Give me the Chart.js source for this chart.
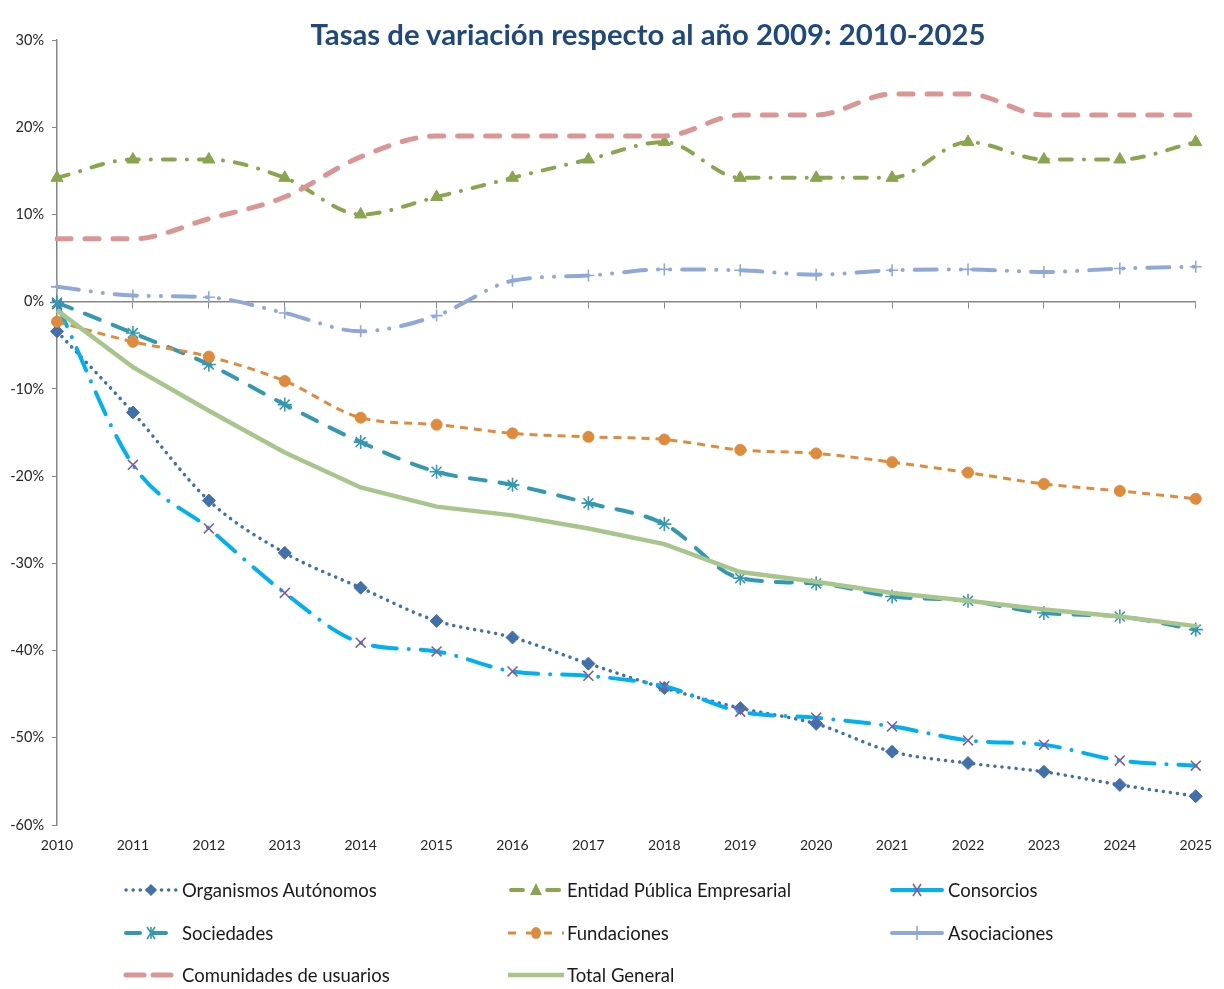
<!DOCTYPE html>
<html>
<head>
<meta charset="utf-8">
<script src="https://cdn.jsdelivr.net/npm/chart.js@4.4.1/dist/chart.umd.min.js"></script>
<style>
  html, body { margin:0; padding:0; background:#fff; }
  #wrap { position:relative; width:1224px; height:989px; overflow:hidden; }
  #c { position:absolute; left:0; top:0; }
  #title { position:absolute; top:16px; left:648px; transform:translateX(-50%); white-space:nowrap;
           font-family:Lato, "Open Sans", sans-serif; font-weight:bold; font-size:29.3px; color:#1F497D; }
  .lg { position:absolute; height:20px; display:flex; align-items:center; font-family:Lato, "Open Sans", sans-serif;
        font-size:18.5px; color:#1a1a1a; white-space:nowrap; }
  .lg svg { margin-right:3px; }
</style>
</head>
<body>
<div id="wrap">
  <canvas id="c" width="1224" height="989"></canvas>
  <div id="title">Tasas de variación respecto al año 2009: 2010-2025</div>
  <div id="legend"></div>
</div>
<script>
const years = ['2010','2011','2012','2013','2014','2015','2016','2017','2018','2019','2020','2021','2022','2023','2024','2025'];
const yTicks = [-60,-50,-40,-30,-20,-10,0,10,20,30];
const organismos = [-3.4,-12.7,-22.8,-28.8,-32.8,-36.6,-38.5,-41.5,-44.3,-46.6,-48.4,-51.6,-52.9,-53.9,-55.4,-56.7];
const entidad = [14.2,16.3,16.3,14.2,10.0,12.0,14.2,16.3,18.3,14.2,14.2,14.2,18.3,16.3,16.3,18.3];
const consorcios = [-0.3,-18.7,-26.0,-33.4,-39.1,-40.1,-42.4,-42.9,-44.1,-47.0,-47.7,-48.7,-50.3,-50.8,-52.6,-53.2];
const sociedades = [-0.1,-3.6,-7.2,-11.8,-16.1,-19.5,-21.0,-23.1,-25.5,-31.7,-32.3,-33.8,-34.3,-35.7,-36.1,-37.6];
const fundaciones = [-2.3,-4.6,-6.3,-9.1,-13.3,-14.1,-15.1,-15.5,-15.8,-17.0,-17.4,-18.4,-19.6,-20.9,-21.7,-22.6];
const asociaciones = [1.7,0.7,0.5,-1.3,-3.4,-1.6,2.4,3.0,3.7,3.6,3.1,3.6,3.7,3.4,3.8,4.0];
const comunidades = [7.2,7.2,9.5,12.0,16.6,19.0,19.0,19.0,19.0,21.4,21.4,23.8,23.8,21.4,21.4,21.4];
const totalGeneral = [-1.0,-7.5,-12.5,-17.3,-21.3,-23.5,-24.5,-26.0,-27.8,-31.0,-32.1,-33.4,-34.3,-35.3,-36.1,-37.2];

const series = [
  {label:'Organismos Autónomos', data:organismos, color:'#4170AA', mColor:'#4170AA', width:3.5, dash:[0.1,7], cap:'round', pt:'rectRot', r:6.5, smooth:true, mk:'diamond', svgDash:'0.1 7'},
  {label:'Entidad Pública Empresarial', data:entidad, color:'#89A54E', mColor:'#89A54E', width:4, dash:[12,12,0.1,12], cap:'round', pt:'triangle', r:7, smooth:true, mk:'triangle', svgDash:'12 12 0.1 12'},
  {label:'Consorcios', data:consorcios, color:'#00B0F0', mColor:'#7E5F9B', width:4, dash:[24,12,0.1,12], cap:'round', pt:'crossRot', r:7, smooth:true, mk:'x', svgDash:'60 0'},
  {label:'Sociedades', data:sociedades, color:'#3399B3', mColor:'#3399B3', width:4, dash:[16,14], cap:'round', pt:'star', r:7, smooth:true, mk:'star', svgDash:'14 12'},
  {label:'Fundaciones', data:fundaciones, color:'#E08A3C', mColor:'#E08A3C', width:3, dash:[8,6], cap:'butt', pt:'circle', r:5.5, smooth:true, mk:'circle', svgDash:'8 10'},
  {label:'Asociaciones', data:asociaciones, color:'#8FA8D5', mColor:'#8FA8D5', width:4, dash:[22,12,0.1,12,0.1,12], cap:'round', pt:'cross', r:6, smooth:true, mk:'plus', svgDash:'60 0'},
  {label:'Comunidades de usuarios', data:comunidades, color:'#D99694', mColor:'#D99694', width:5, dash:[14,14], cap:'round', pt:'circle', r:0, smooth:true, mk:'none', svgDash:'18 9'},
  {label:'Total General', data:totalGeneral, color:'#A8C68C', mColor:'#A8C68C', width:4.5, dash:[], cap:'butt', pt:'dash', r:4, smooth:false, mk:'none', svgDash:'60 0'}
];

const datasets = series.map((s, i) => ({
  label: s.label,
  data: s.data,
  xAxisID: 'x',
  yAxisID: 'y',
  borderColor: s.color,
  backgroundColor: s.color,
  borderWidth: s.width,
  borderDash: s.dash,
  borderCapStyle: s.cap,
  tension: s.smooth ? 0.4 : 0,
  cubicInterpolationMode: s.smooth ? 'monotone' : 'default',
  fill: false,
  pointStyle: s.pt,
  pointRadius: s.r,
  pointHoverRadius: s.r,
  pointBackgroundColor: s.mColor,
  pointBorderColor: s.mColor,
  pointBorderWidth: (s.pt === 'crossRot' || s.pt === 'cross' || s.pt === 'star' || s.pt === 'dash') ? 1.6 : 1,
  order: series.length - i
}));

Chart.defaults.font.family = 'Lato, "Open Sans", sans-serif';

new Chart(document.getElementById('c'), {
  type: 'line',
  data: { labels: years, datasets },
  options: {
    responsive: false,
    animation: false,
    devicePixelRatio: 1,
    layout: { padding: { left: 0, top: 40, right: 26, bottom: 134 } },
    plugins: { legend: { display: false }, tooltip: { enabled: false }, title: { display: false } },
    scales: {
      x: {
        type: 'category',
        position: { y: 0 },
        offset: false,
        grid: { display: true, drawOnChartArea: false, drawTicks: true, tickLength: 6, color: '#868686', lineWidth: 1 },
        border: { display: true, color: '#868686', width: 1.5 },
        ticks: { display: false }
      },
      xb: {
        type: 'category',
        axis: 'x',
        position: 'bottom',
        labels: years,
        offset: false,
        grid: { display: false, drawTicks: false },
        border: { display: false },
        ticks: { color: '#262626', font: { size: 14 }, padding: 12, maxRotation: 0, autoSkip: false },
        afterFit: (s) => { s.height = 30; }
      },
      y: {
        min: -60, max: 30,
        afterBuildTicks: (s) => { s.ticks = yTicks.map(v => ({ value: v })); },
        grid: { display: true, drawOnChartArea: false, drawTicks: true, tickLength: 5, color: '#868686' },
        border: { display: true, color: '#868686', width: 1.5 },
        ticks: { color: '#262626', font: { size: 14.5 }, padding: 8, callback: (v) => v + '%' },
        afterFit: (s) => { s.width = 57; }
      }
    }
  }
});

// HTML legend
const pos = [
  [123, 890], [508, 890], [889, 890],
  [123, 933], [508, 933], [889, 933],
  [123, 975], [508, 975]
];
function markerSvg(s) {
  const c = s.mColor, cx = 28, cy = 10;
  switch (s.mk) {
    case 'diamond': return `<polygon points="${cx},${cy-6} ${cx+6},${cy} ${cx},${cy+6} ${cx-6},${cy}" fill="${c}"/>`;
    case 'triangle': return `<polygon points="${cx},${cy-7} ${cx+6},${cy+5} ${cx-6},${cy+5}" fill="${c}"/>`;
    case 'x': return `<line x1="${cx-4}" y1="${cy-6}" x2="${cx+4}" y2="${cy+6}" stroke="${c}" stroke-width="1.6"/><line x1="${cx+4}" y1="${cy-6}" x2="${cx-4}" y2="${cy+6}" stroke="${c}" stroke-width="1.6"/>`;
    case 'star': return `<line x1="${cx-4}" y1="${cy-6}" x2="${cx+4}" y2="${cy+6}" stroke="${c}" stroke-width="1.6"/><line x1="${cx+4}" y1="${cy-6}" x2="${cx-4}" y2="${cy+6}" stroke="${c}" stroke-width="1.6"/><line x1="${cx}" y1="${cy-6}" x2="${cx}" y2="${cy+6}" stroke="${c}" stroke-width="1.6"/>`;
    case 'circle': return `<ellipse cx="${cx}" cy="${cy}" rx="5" ry="6" fill="${c}"/>`;
    case 'plus': return `<line x1="${cx}" y1="${cy-7}" x2="${cx}" y2="${cy+7}" stroke="${c}" stroke-width="1.6"/>`;
    default: return '';
  }
}
const lg = document.getElementById('legend');
series.forEach((s, i) => {
  const d = document.createElement('div');
  d.className = 'lg';
  d.style.left = pos[i][0] + 'px';
  d.style.top = (pos[i][1] - 10) + 'px';
  const w = 56;
  const lineCap = s.cap === 'round' ? 'round' : 'butt';
  d.innerHTML = `<svg width="${w}" height="20" viewBox="0 0 ${w} 20"><line x1="${lineCap==='round'?3:0}" y1="10" x2="${w-(lineCap==='round'?3:0)}" y2="10" stroke="${s.color}" stroke-width="${s.width}" stroke-dasharray="${s.svgDash}" stroke-linecap="${lineCap}"/>${markerSvg(s)}</svg><span>${s.label}</span>`;
  lg.appendChild(d);
});
</script>
</body>
</html>
